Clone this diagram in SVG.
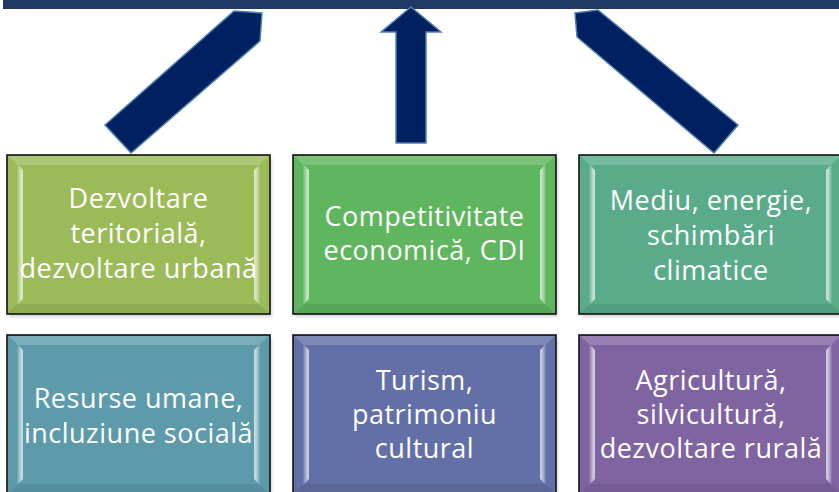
<svg xmlns="http://www.w3.org/2000/svg" width="839" height="492" viewBox="0 0 839 492">
<style>
.t{font-family:"Open Sans","Liberation Sans",sans-serif;font-size:27px;letter-spacing:0.5px;fill:#ffffff;text-anchor:middle}
.box{stroke:#111111;stroke-width:1.6}
.arrow{fill:#002060;stroke:#4f7fb5;stroke-width:1.5;stroke-linejoin:miter}
.topb{fill:#ffffff;opacity:0.18}
.botb{fill:#000000;opacity:0.08}
</style>
<defs>
<linearGradient id="gl" x1="0" y1="0" x2="1" y2="0">
<stop offset="0" stop-color="#ffffff" stop-opacity="0.05"/>
<stop offset="0.6" stop-color="#ffffff" stop-opacity="0.55"/>
<stop offset="1" stop-color="#ffffff" stop-opacity="0.7"/>
</linearGradient>
<linearGradient id="gr" x1="0" y1="0" x2="1" y2="0">
<stop offset="0" stop-color="#ffffff" stop-opacity="0.7"/>
<stop offset="0.4" stop-color="#ffffff" stop-opacity="0.55"/>
<stop offset="1" stop-color="#ffffff" stop-opacity="0.05"/>
</linearGradient>
<filter id="sh" x="-5%" y="-5%" width="115%" height="115%">
<feGaussianBlur stdDeviation="1.5"/>
</filter>
<g id="bevel">
<rect x="0" y="0" width="263" height="159" class="box"/>
<polygon class="topb" points="1,1 262,1 252,10 11,10"/>
<polygon class="botb" points="1,158 262,158 252,149 11,149"/>
<polygon fill="url(#gl)" points="10,9 16,15 16,144 10,150"/>
<polygon fill="url(#gr)" points="253,9 247,15 247,144 253,150"/>
</g>
</defs>
<rect id="topbar" x="3" y="0" width="836" height="9" fill="#203864"/>
<g id="connectors">
<polygon class="arrow" points="234,11 262,13 260,41 131,153 105,125"/>
<polygon class="arrow" points="411,7 441,32 426,32 426,143 396,143 396,32 381,32"/>
<polygon class="arrow" points="575,13 598,10 738,125 714,153 577,37"/>
</g>
<g id="n1">
<rect x="9" y="158" width="263" height="159" fill="#999" opacity="0.4" filter="url(#sh)"/>
<use href="#bevel" x="7" y="155" fill="#9bbb59"/>
<text class="t" x="138.5" y="208">Dezvoltare</text>
<text class="t" x="138.5" y="243">teritorială,</text>
<text class="t" x="138.5" y="278">dezvoltare urbană</text>
</g>
<g id="n2">
<rect x="295" y="158" width="263" height="159" fill="#999" opacity="0.4" filter="url(#sh)"/>
<use href="#bevel" x="293" y="155" fill="#60b55f"/>
<text class="t" x="424.5" y="226">Competitivitate</text>
<text class="t" x="424.5" y="260">economică, CDI</text>
</g>
<g id="n3">
<rect x="581" y="158" width="263" height="159" fill="#999" opacity="0.4" filter="url(#sh)"/>
<use href="#bevel" x="579" y="155" fill="#5aab8a"/>
<text class="t" x="711" y="210">Mediu, energie,</text>
<text class="t" x="711" y="245">schimbări</text>
<text class="t" x="711" y="280">climatice</text>
</g>
<g id="n4">
<rect x="9" y="338" width="263" height="159" fill="#999" opacity="0.4" filter="url(#sh)"/>
<use href="#bevel" x="7" y="335" fill="#5d9bab"/>
<text class="t" x="138.5" y="408">Resurse umane,</text>
<text class="t" x="138.5" y="443">incluziune socială</text>
</g>
<g id="n5">
<rect x="295" y="338" width="263" height="159" fill="#999" opacity="0.4" filter="url(#sh)"/>
<use href="#bevel" x="293" y="335" fill="#636fa7"/>
<text class="t" x="424.5" y="390">Turism,</text>
<text class="t" x="424.5" y="424">patrimoniu</text>
<text class="t" x="424.5" y="458">cultural</text>
</g>
<g id="n6">
<rect x="581" y="338" width="263" height="159" fill="#999" opacity="0.4" filter="url(#sh)"/>
<use href="#bevel" x="579" y="335" fill="#8064a2"/>
<text class="t" x="711" y="390">Agricultură,</text>
<text class="t" x="711" y="424">silvicultură,</text>
<text class="t" x="711" y="458">dezvoltare rurală</text>
</g>
</svg>
